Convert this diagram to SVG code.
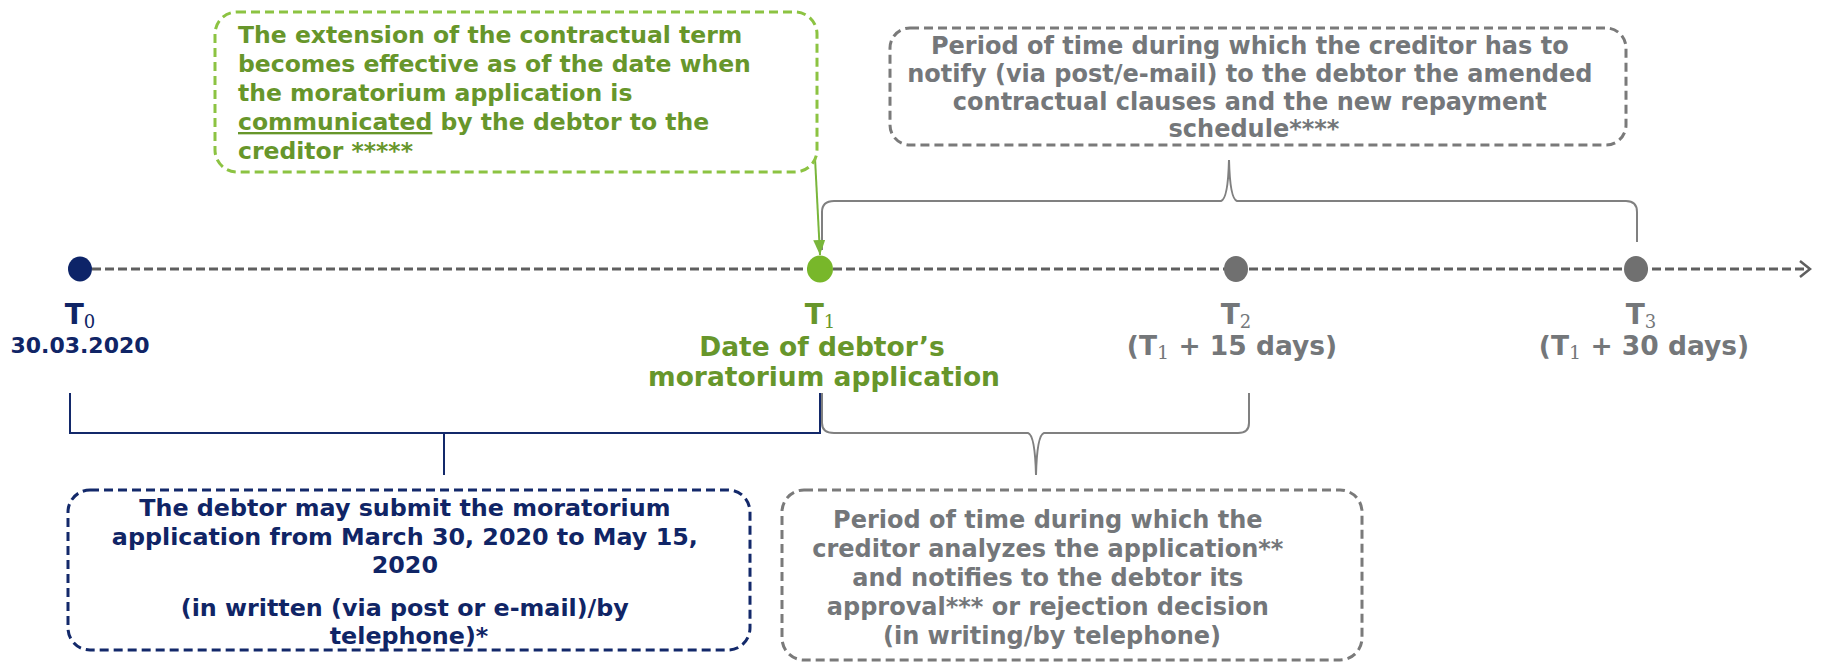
<svg xmlns="http://www.w3.org/2000/svg" width="1822" height="664" viewBox="0 0 1822 664">
<defs>
<style>
text { font-family: "DejaVu Sans", Verdana, sans-serif; font-weight: bold; }
.g { fill: #67962b; }
.n { fill: #102566; }
.gr { fill: #74777a; }
.sub { font-family: "DejaVu Serif", "Liberation Serif", serif; font-weight: normal; }
.box { fill: #ffffff; stroke-width: 3; stroke-dasharray: 9 5; }
.brace { fill: none; stroke: #808080; stroke-width: 2; }
.c { text-anchor: middle; }
</style>
<marker id="tri" viewBox="0 0 15 12" refX="15" refY="6" markerWidth="15" markerHeight="12" markerUnits="userSpaceOnUse" orient="auto">
<path d="M0,0 L15,6 L0,12 Z" fill="#79b63b"/>
</marker>
</defs>
<rect width="1822" height="664" fill="#ffffff"/>

<g id="connectors">
<line x1="92" y1="269" x2="1809" y2="269" stroke="#5f5f5f" stroke-width="3" stroke-dasharray="9 4"/>
<polyline points="1800,261 1810,269 1800,277" fill="none" stroke="#5f5f5f" stroke-width="2.5"/>
<path class="brace" d="M822,250 L822,212 Q822,201 834,201 L1221,201 Q1228,199 1229,160 Q1230,199 1237,201 L1626,201 Q1637,201 1637,212 L1637,242"/>
<path class="brace" d="M822,393 L822,423 Q822,433 834,433 L1028,433 Q1035,435 1036,475 Q1037,435 1044,433 L1238,433 Q1249,433 1249,423 L1249,393"/>
<path d="M70,393 L70,433 L820,433 L820,393 M444,433 L444,475" fill="none" stroke="#13296a" stroke-width="2"/>
<path d="M815,158 L820,255" fill="none" stroke="#79b63b" stroke-width="2" marker-end="url(#tri)"/>
</g>

<g id="t0">
<ellipse cx="80" cy="269" rx="12" ry="12.5" fill="#0d2468"/>
<text class="n c" x="80" y="324" font-size="28">T<tspan class="sub" font-size="18" dy="4">0</tspan></text>
<text class="n c" x="80" y="353" font-size="22">30.03.2020</text>
</g>

<g id="t1">
<ellipse cx="820" cy="269" rx="13" ry="13.5" fill="#78b72a"/>
<text class="g c" x="820" y="324" font-size="28">T<tspan class="sub" font-size="18" dy="4">1</tspan></text>
<text class="g c" x="822" y="356" font-size="26.5">Date of debtor’s</text>
<text class="g c" x="824" y="386" font-size="26.5">moratorium application</text>
</g>

<g id="t2">
<ellipse cx="1236" cy="269" rx="12" ry="13" fill="#707070"/>
<text class="gr c" x="1236" y="324" font-size="28">T<tspan class="sub" font-size="18" dy="4">2</tspan></text>
<text class="gr c" x="1232" y="355" font-size="26.5">(T<tspan class="sub" font-size="19" dy="4">1</tspan><tspan dy="-4"> + 15 days)</tspan></text>
</g>

<g id="t3">
<ellipse cx="1636" cy="269" rx="12" ry="13" fill="#707070"/>
<text class="gr c" x="1641" y="324" font-size="28">T<tspan class="sub" font-size="18" dy="4">3</tspan></text>
<text class="gr c" x="1644" y="355" font-size="26.5">(T<tspan class="sub" font-size="19" dy="4">1</tspan><tspan dy="-4"> + 30 days)</tspan></text>
</g>

<g id="green-note">
<rect class="box" x="215" y="12" width="602" height="160" rx="22" stroke="#8cc342"/>
<text class="g" font-size="23.5">
<tspan x="238" y="43">The extension of the contractual term</tspan>
<tspan x="238" y="72">becomes effective as of the date when</tspan>
<tspan x="238" y="101">the moratorium application is</tspan>
<tspan x="238" y="130"><tspan style="text-decoration:underline">communicated</tspan> by the debtor to the</tspan>
<tspan x="238" y="159">creditor *****</tspan>
</text>
</g>

<g id="notify-note">
<rect class="box" x="890" y="28" width="736" height="117" rx="20" stroke="#7a7a7a"/>
<text class="gr c" font-size="24">
<tspan x="1254" y="54">Period of time during which the creditor has to</tspan>
<tspan x="1254" y="82">notify (via post/e-mail) to the debtor the amended</tspan>
<tspan x="1254" y="110">contractual clauses and the new repayment</tspan>
<tspan x="1254" y="137">schedule****</tspan>
</text>
</g>

<g id="submit-note">
<rect class="box" x="68" y="490" width="682" height="160" rx="22" stroke="#13296a"/>
<text class="n c" font-size="23.8">
<tspan x="409" y="516">The debtor may submit the moratorium</tspan>
<tspan x="409" y="545">application from March 30, 2020 to May 15,</tspan>
<tspan x="409" y="573">2020</tspan>
<tspan x="409" y="616">(in written (via post or e-mail)/by</tspan>
<tspan x="409" y="644">telephone)*</tspan>
</text>
</g>

<g id="analysis-note">
<rect class="box" x="782" y="490" width="580" height="170" rx="22" stroke="#7a7a7a"/>
<text class="gr c" font-size="24">
<tspan x="1052" y="528">Period of time during which the</tspan>
<tspan x="1052" y="557">creditor analyzes the application**</tspan>
<tspan x="1052" y="586">and notifies to the debtor its</tspan>
<tspan x="1052" y="615">approval*** or rejection decision</tspan>
<tspan x="1052" y="644">(in writing/by telephone)</tspan>
</text>
</g>
</svg>
